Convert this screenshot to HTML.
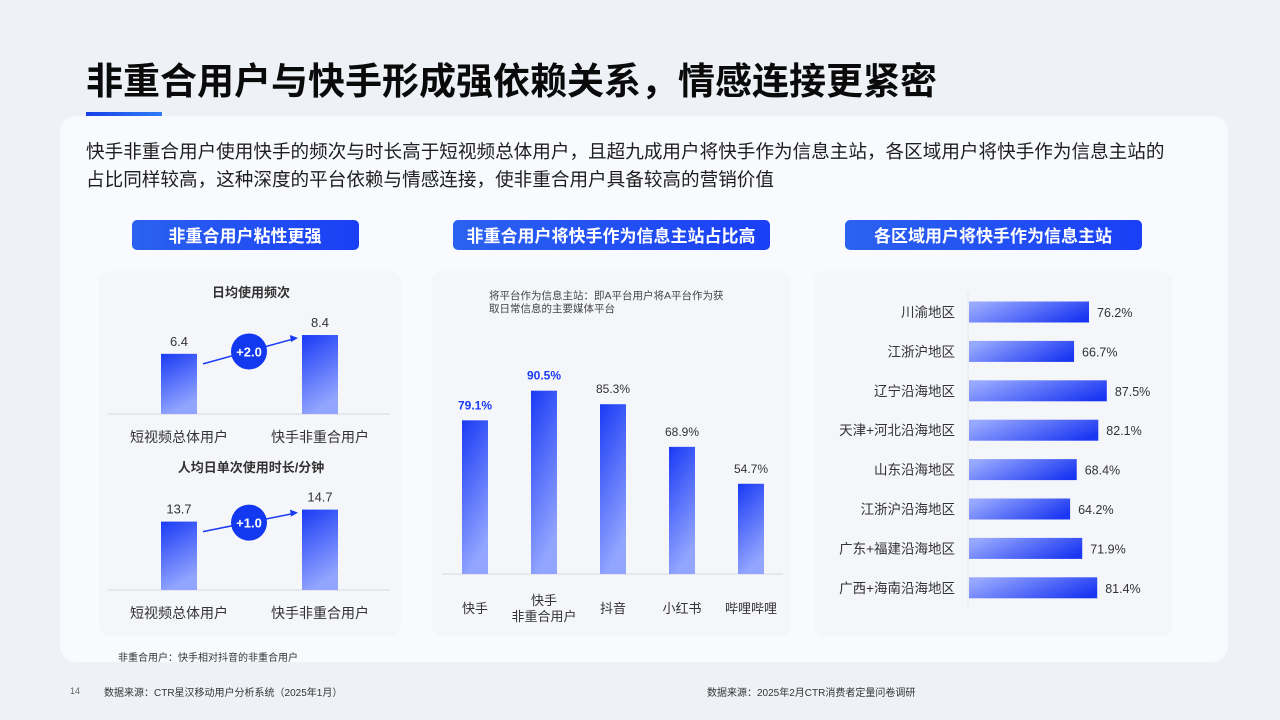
<!DOCTYPE html>
<html><head><meta charset="utf-8"><style>
body{margin:0;background:#eef2f7;}
svg{display:block;font-family:"Liberation Sans","Noto Sans CJK SC",sans-serif;}
</style></head><body>
<svg id="s" width="1280" height="720" viewBox="0 0 1280 720">
<defs>
<linearGradient id="gv" x1="0" y1="0" x2="0.3" y2="1"><stop offset="0" stop-color="#1a3af5"/><stop offset="1" stop-color="#93a6ff"/></linearGradient>
<linearGradient id="gh" x1="0" y1="0.3" x2="1" y2="0.7"><stop offset="0" stop-color="#97a8ff"/><stop offset="1" stop-color="#1a36f2"/></linearGradient>
<linearGradient id="gp" x1="0" y1="0" x2="1" y2="0"><stop offset="0" stop-color="#2b62f0"/><stop offset="1" stop-color="#1a3ff5"/></linearGradient>
<linearGradient id="gu" x1="0" y1="0" x2="1" y2="0"><stop offset="0" stop-color="#1740e8"/><stop offset="1" stop-color="#2f7df5"/></linearGradient>
</defs>
<rect width="1280" height="720" fill="#eef2f7"/>
<text x="86" y="94" font-size="37" font-weight="bold" fill="#0a0a0a">非重合用户与快手形成强依赖关系，情感连接更紧密</text>
<rect x="86" y="112" width="76" height="7" fill="url(#gu)"/>
<rect x="60" y="116" width="1168" height="546" rx="16" fill="#f8fafd"/>
<text x="86" y="158" font-size="18.6" fill="#1e1e1e">快手非重合用户使用快手的频次与时长高于短视频总体用户，且超九成用户将快手作为信息主站，各区域用户将快手作为信息主站的</text>
<text x="86" y="186" font-size="18.6" fill="#1e1e1e">占比同样较高，这种深度的平台依赖与情感连接，使非重合用户具备较高的营销价值</text>

<rect x="132" y="220" width="227" height="30" rx="5" fill="url(#gp)"/>
<text x="245" y="242" font-size="17" font-weight="bold" fill="#fff" text-anchor="middle">非重合用户粘性更强</text>
<rect x="453" y="220" width="317" height="30" rx="5" fill="url(#gp)"/>
<text x="611" y="242" font-size="17" font-weight="bold" fill="#fff" text-anchor="middle">非重合用户将快手作为信息主站占比高</text>
<rect x="845" y="220" width="297" height="30" rx="5" fill="url(#gp)"/>
<text x="993" y="242" font-size="17" font-weight="bold" fill="#fff" text-anchor="middle">各区域用户将快手作为信息主站</text>

<rect x="99" y="271" width="302" height="365" rx="10" fill="#f4f6f9"/>
<rect x="432" y="271" width="358" height="365" rx="10" fill="#f4f6f9"/>
<rect x="814" y="271" width="358" height="365" rx="10" fill="#f4f6f9"/>

<text x="251" y="297" font-size="13" font-weight="bold" fill="#333" text-anchor="middle">日均使用频次</text>
<text x="251" y="472" font-size="13" font-weight="bold" fill="#333" text-anchor="middle">人均日单次使用时长/分钟</text>
<text x="489" y="299" font-size="10.5" fill="#444">将平台作为信息主站：即A平台用户将A平台作为获</text>
<text x="489" y="312" font-size="10.5" fill="#444">取日常信息的主要媒体平台</text>

<g id="left"></g><g id="mid"></g><g id="right"></g>

<text x="118" y="661" font-size="10" fill="#333">非重合用户：快手相对抖音的非重合用户</text>
<text x="70" y="694" font-size="9" fill="#666">14</text>
<text x="104" y="696" font-size="10" fill="#333">数据来源：CTR星汉移动用户分析系统（2025年1月）</text>
<text x="707" y="696" font-size="10" fill="#333">数据来源：2025年2月CTR消费者定量问卷调研</text>
</svg>
<script>
const NS="http://www.w3.org/2000/svg";
const groupLabels=["短视频总体用户","快手非重合用户"];
const freqValues=[6.4,8.4];
const durValues=[13.7,14.7];
const platforms=["快手","快手\n非重合用户","抖音","小红书","哔哩哔哩"];
const platformValues=[79.1,90.5,85.3,68.9,54.7];
const regions=["川渝地区","江浙沪地区","辽宁沿海地区","天津+河北沿海地区","山东沿海地区","江浙沪沿海地区","广东+福建沿海地区","广西+海南沿海地区"];
const regionValues=[76.2,66.7,87.5,82.1,68.4,64.2,71.9,81.4];

function mk(tag,attrs,parent,txt){const e=document.createElementNS(NS,tag);for(const k in attrs)e.setAttribute(k,attrs[k]);if(txt!=null)e.textContent=txt;parent.appendChild(e);return e;}

const L=document.getElementById('left');
function pair(vals,base,min,scale,badge,name){
  const xs=[179,320];
  mk('line',{x1:108,x2:390,y1:base,y2:base,stroke:'#d5d9e0'},L);
  const tops=[];
  vals.forEach((v,i)=>{
    const y=base-(v-min)*scale; tops.push(y);
    const r=mk('rect',{x:xs[i]-18,y:y,width:36,height:base-y,fill:'url(#gv)'},L);
    
    
    const t=mk('text',{x:xs[i],y:y-8,'font-size':13,fill:'#333','text-anchor':'middle'},L,v.toFixed(1));
    
    
    const c=mk('text',{x:xs[i],y:base+28,'font-size':14,fill:'#333','text-anchor':'middle'},L,groupLabels[i]);
    
    
  });
  const y1=tops[0]+10,y2=tops[1]+4;
  const ar=mk('line',{x1:203,y1:y1,x2:293,y2:y2,stroke:'#1a3af5','stroke-width':1.5},L);
  
  mk('polygon',{points:`298,${y2-1} 290,${y2-4} 291,${y2+3}`,fill:'#1a3af5'},L);
  const cx=249,cy=(y1+y2)/2;
  const b=mk('circle',{cx:cx,cy:cy,r:18,fill:'#1238f0'},L);
  
  
  mk('text',{x:cx,y:cy+5,'font-size':13,'font-weight':'bold',fill:'#fff','text-anchor':'middle'},L,'+'+(vals[1]-vals[0]).toFixed(1));
}
pair(freqValues,414,0,9.4,true,'freq');
pair(durValues,590,8,12,true,'duration');

const M=document.getElementById('mid');
const mBase=574,mMin=20,mScale=2.6,mx0=475,mStep=69;
mk('line',{x1:442,x2:783,y1:mBase,y2:mBase,stroke:'#d5d9e0'},M);
platformValues.forEach((v,i)=>{
  const x=mx0+i*mStep,y=mBase-(v-mMin)*mScale;
  const r=mk('rect',{x:x-13,y:y,width:26,height:mBase-y,fill:'url(#gv)'},M);
  
  
  const hl=i<2;
  const t=mk('text',{x:x,y:y-11,'font-size':12,fill:hl?'#1a3af5':'#333','font-weight':hl?'bold':'normal','text-anchor':'middle'},M,v.toFixed(1)+'%');
  
  
  const lines=platforms[i].split('\n');
  lines.forEach((ln,j)=>{
    const c=mk('text',{x:x,y:(lines.length>1?mBase+31:mBase+39)+j*16,'font-size':13,fill:'#333','text-anchor':'middle'},M,ln);
    
    
  });
});

const R=document.getElementById('right');
const rx0=969,rScale=1.575,ry0=312,rStep=39.4;
mk('line',{x1:968,x2:968,y1:292,y2:608,stroke:'#e3e6ec'},R);
regionValues.forEach((v,i)=>{
  const y=ry0+i*rStep,w=v*rScale;
  const r=mk('rect',{x:rx0,y:y-10.5,width:w,height:21,fill:'url(#gh)'},R);
  
  
  const t=mk('text',{x:rx0+w+8,y:y+5,'font-size':12.5,fill:'#333'},R,v.toFixed(1)+'%');
  
  
  const c=mk('text',{x:955,y:y+5,'font-size':13.5,fill:'#333','text-anchor':'end'},R,regions[i]);
  
  
});
</script>
</body></html>
